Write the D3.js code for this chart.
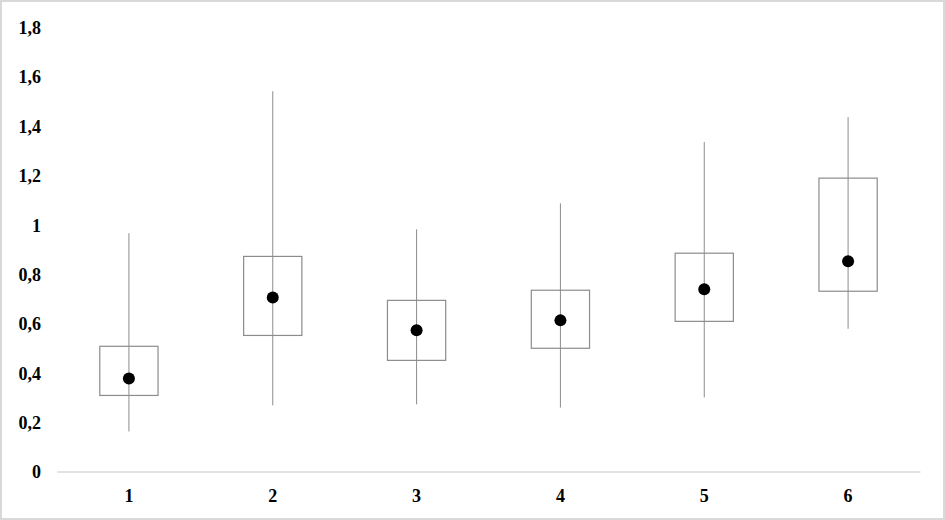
<!DOCTYPE html>
<html><head><meta charset="utf-8">
<script src="https://cdn.jsdelivr.net/npm/d3@7"></script>
<style>html,body{margin:0;padding:0;background:#fff;}svg{display:block;}</style>
</head><body>
<script>
const categories = ["1","2","3","4","5","6"];
const whiskerHigh = [0.965, 1.54, 0.981, 1.086, 1.334, 1.435];
const whiskerLow  = [0.162, 0.268, 0.272, 0.259, 0.300, 0.578];
const boxHigh     = [0.507, 0.871, 0.693, 0.734, 0.884, 1.188];
const boxLow      = [0.308, 0.551, 0.450, 0.499, 0.608, 0.730];
const centers     = [0.377, 0.705, 0.572, 0.612, 0.738, 0.851];
const yTicks = [0, 0.2, 0.4, 0.6, 0.8, 1, 1.2, 1.4, 1.6, 1.8];

const W = 945, H = 520;
const svg = d3.select("body").append("svg").attr("width", W).attr("height", H);
svg.append("rect").attr("x",1).attr("y",1).attr("width",W-2).attr("height",H-2)
  .attr("fill","#fff").attr("stroke","#d9d9d9").attr("stroke-width",2);

const x = d3.scaleBand().domain(categories).range([57, 920]).paddingInner(0).paddingOuter(0);
const y = d3.scaleLinear().domain([0, 1.8]).range([471.5, 27]);
const fmt = d => String(d).replace(".", ",");
const font = "'Liberation Serif','Times New Roman',serif";

// y axis labels
const yAxis = d3.axisLeft(y).tickValues(yTicks).tickFormat(fmt).tickSize(0).tickPadding(0);
const ya = svg.append("g").attr("transform","translate(41,0)").call(yAxis);
ya.select(".domain").remove();
ya.selectAll("text").attr("font-family",font).attr("font-weight","bold").attr("font-size",18).attr("fill","#000").attr("dy","0.36em");

// x axis
const xAxis = d3.axisBottom(x).tickSize(0).tickPadding(0);
const xa = svg.append("g").attr("transform","translate(0,471.5)").call(xAxis);
xa.select(".domain").attr("stroke","#d9d9d9").attr("stroke-width",1.3);
xa.selectAll("text").attr("font-family",font).attr("font-weight","bold").attr("font-size",18).attr("fill","#000").attr("dy","30px");

const boxW = x.bandwidth()*0.405;
const g = svg.append("g");
categories.forEach((c,i) => {
  const cx = x(c) + x.bandwidth()/2;
  g.append("rect").attr("x", cx-boxW/2).attr("y", y(boxHigh[i]))
    .attr("width", boxW).attr("height", y(boxLow[i])-y(boxHigh[i]))
    .attr("fill","none").attr("stroke","#8c8c8c").attr("stroke-width",1.2);
  g.append("line").attr("x1",cx).attr("x2",cx).attr("y1",y(whiskerHigh[i])).attr("y2",y(whiskerLow[i]))
    .attr("stroke","#8c8c8c").attr("stroke-width",1);
  g.append("circle").attr("cx",cx).attr("cy",y(centers[i])).attr("r",6).attr("fill","#000");
});
</script>
</body></html>
